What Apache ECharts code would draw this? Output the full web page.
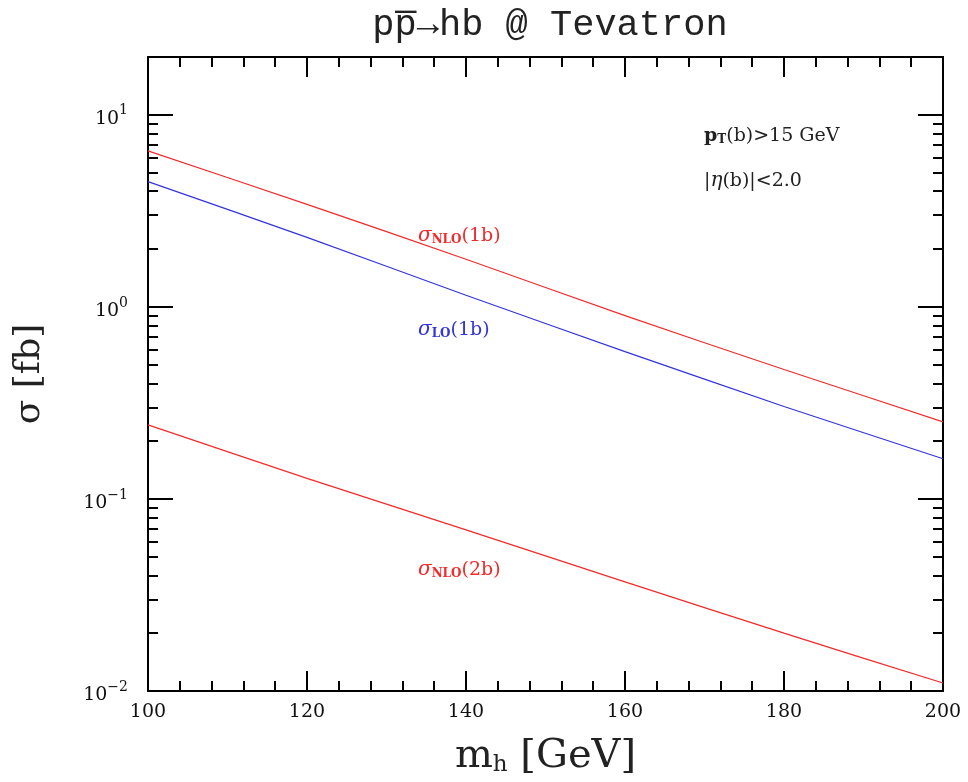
<!DOCTYPE html>
<html>
<head>
<meta charset="utf-8">
<script src="https://cdn.jsdelivr.net/npm/echarts@6/dist/echarts.min.js"></script>
<style>html,body{margin:0;padding:0;background:#fff;}#c{width:968px;height:782px;}</style>
</head>
<body>
<div id="c"></div>
<script>
// Data
const massPoints = [100, 120, 140, 160, 180, 200];
const sigmaNLO1b = [6.49, 3.42, 1.77, 0.900, 0.472, 0.252];
const sigmaLO1b  = [4.49, 2.30, 1.15, 0.585, 0.303, 0.162];
const sigmaNLO2b = [0.243, 0.128, 0.069, 0.037, 0.0200, 0.0110];
const yMajorTicks = [0.01, 0.1, 1, 10];
const yMinorMultipliers = [2, 3, 4, 5, 6, 7, 8, 9];

const yMinorTicks = [];
yMajorTicks.forEach(d => yMinorMultipliers.forEach(m => { const v = d * m; if (v < 20) yMinorTicks.push(+v.toPrecision(3)); }));

const pairs = arr => massPoints.map((x, i) => [x, arr[i]]);

const RED = '#f22a2a', BLUE = '#3434dc';
const serif = '"DejaVu Serif", "Liberation Serif", serif';

const chart = echarts.init(document.getElementById('c'), null, {renderer: 'canvas'});

function powLabel(v) {
  const l = Math.log10(v);
  const n = Math.round(l);
  if (Math.abs(l - n) > 1e-6) return '';
  const exp = n < 0 ? '\u2212' + (-n) : String(n);
  return '{b|10}{s|' + exp + '}';
}

const axisLineStyle = {show: true, lineStyle: {color: '#000', width: 2}};
const richPow = {
  b: {fontFamily: serif, fontSize: 19, color: '#111', padding: [8, 0, 0, 0]},
  s: {fontFamily: serif, fontSize: 14, color: '#111', padding: [0, 0, 8, 0]}
};

function xAxisDef(pos, labels) {
  return {
    type: 'value', min: 100, max: 200, interval: 20, position: pos,
    axisLine: axisLineStyle,
    axisTick: {show: true, inside: true, length: 20, lineStyle: {color: '#000', width: 2}},
    minorTick: {show: true, splitNumber: 5, length: 10, lineStyle: {color: '#000', width: 2}},
    splitLine: {show: false},
    axisLabel: labels ? {show: true, fontFamily: serif, fontSize: 19, color: '#111', margin: 12} : {show: false},
    name: labels ? 'm{sub|h} [GeV]' : '',
    nameLocation: 'middle', nameGap: 46,
    nameTextStyle: {fontFamily: serif, fontSize: 40, color: '#222',
      rich: {sub: {fontFamily: serif, fontSize: 23, color: '#222', padding: [17, 0, 0, 0]}}}
  };
}

function yMajor(pos, labels) {
  return {
    type: 'log', logBase: 10, min: 0.01, max: 20, position: pos,
    axisLine: axisLineStyle,
    axisTick: {show: true, inside: true, length: 25, customValues: yMajorTicks, lineStyle: {color: '#000', width: 2}},
    splitLine: {show: false},
    axisLabel: labels ? {show: true, customValues: yMajorTicks, formatter: powLabel, rich: richPow, margin: 20} : {show: false},
    name: labels ? '\u03c3 [fb]' : '',
    nameLocation: 'middle', nameGap: 100, nameRotate: 90,
    nameTextStyle: {fontFamily: serif, fontSize: 36, color: '#222'}
  };
}

function yMinor(pos) {
  return {
    type: 'log', logBase: 10, min: 0.01, max: 20, position: pos,
    axisLine: {show: false},
    axisTick: {show: true, inside: true, length: 10, customValues: yMinorTicks, lineStyle: {color: '#000', width: 2}},
    splitLine: {show: false},
    axisLabel: {show: false}
  };
}

const subRich = (color) => ({
  g: {fontFamily: serif, fontSize: 20, fontStyle: 'italic', fill: color},
  sub: {fontFamily: serif, fontSize: 12, fontWeight: 'bold', fill: color, padding: [8, 0, 0, 0]},
  t: {fontFamily: serif, fontSize: 19, fill: color}
});

chart.setOption({
  animation: false,
  backgroundColor: '#fff',
  title: {
    text: 'pp\u0305\u2192hb @ Tevatron', left: 545, top: 2, textAlign: 'center',
    textStyle: {fontFamily: '"Liberation Mono", "DejaVu Sans Mono", monospace', fontSize: 37, fontWeight: 'normal', color: '#222'}
  },
  grid: {left: 148, right: 25, top: 57, bottom: 86, containLabel: false},
  xAxis: [xAxisDef('bottom', true), xAxisDef('top', false)],
  yAxis: [yMajor('left', true), yMinor('left'), yMajor('right', false), yMinor('right')],
  series: [
    {name: 'NLO 1b', type: 'line', data: pairs(sigmaNLO1b), smooth: 0.2, showSymbol: false, lineStyle: {color: RED, width: 1.2}, xAxisIndex: 0, yAxisIndex: 0},
    {name: 'LO 1b', type: 'line', data: pairs(sigmaLO1b), smooth: 0.2, showSymbol: false, lineStyle: {color: BLUE, width: 1.2}, xAxisIndex: 0, yAxisIndex: 0},
    {name: 'NLO 2b', type: 'line', data: pairs(sigmaNLO2b), smooth: 0.2, showSymbol: false, lineStyle: {color: RED, width: 1.2}, xAxisIndex: 0, yAxisIndex: 0}
  ],
  graphic: [
    {type: 'text', left: 418, top: 226, style: {text: '{g|\u03c3}{sub|NLO}{t|(1b)}', rich: subRich(RED)}},
    {type: 'text', left: 418, top: 320, style: {text: '{g|\u03c3}{sub|LO}{t|(1b)}', rich: subRich(BLUE)}},
    {type: 'text', left: 418, top: 560, style: {text: '{g|\u03c3}{sub|NLO}{t|(2b)}', rich: subRich(RED)}},
    {type: 'text', left: 704, top: 127, style: {text: '{p|p}{sub|T}{t|(b)>15 GeV}', rich: {
      p: {fontFamily: serif, fontSize: 19, fontWeight: 'bold', fill: '#222'},
      sub: {fontFamily: serif, fontSize: 12, fontWeight: 'bold', fill: '#222', padding: [7, 0, 0, 0]},
      t: {fontFamily: serif, fontSize: 19, fill: '#222'}}}},
    {type: 'text', left: 704, top: 171, style: {text: '{t|\u007c}{g|\u03b7}{t|(b)\u007c<2.0}', rich: {
      g: {fontFamily: serif, fontSize: 20, fontStyle: 'italic', fill: '#222'},
      t: {fontFamily: serif, fontSize: 19, fill: '#222'}}}}
  ]
});
</script>
</body>
</html>
